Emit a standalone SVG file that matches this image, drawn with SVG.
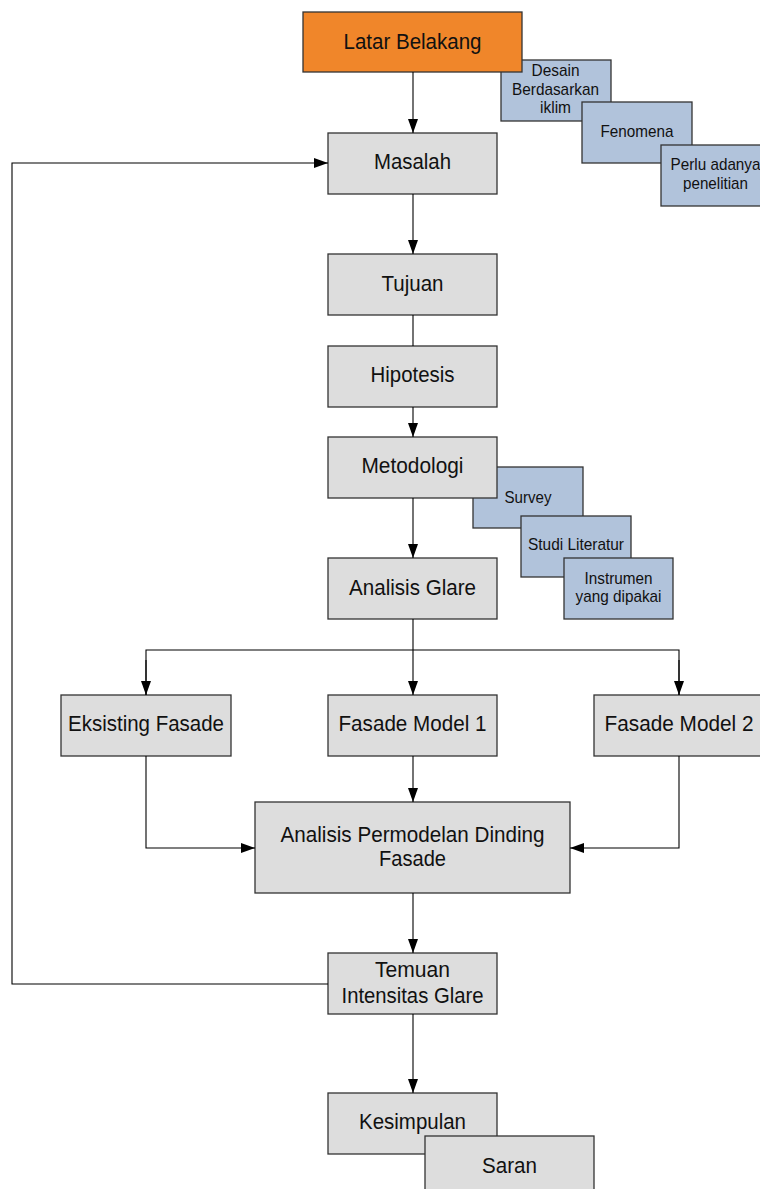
<svg xmlns="http://www.w3.org/2000/svg" width="760" height="1189" viewBox="0 0 760 1189">
<defs>
<style>
text{font-family:"Liberation Sans",Arial,sans-serif;fill:#111;text-anchor:middle}
.m{font-size:22.5px}
.b{font-size:17px}
.g{fill:#dddddd;stroke:#333;stroke-width:1.3}
.o{fill:#f0862a;stroke:#333;stroke-width:1.3}
.u{fill:#b1c3db;stroke:#333;stroke-width:1.3}
.c{fill:none;stroke:#000;stroke-width:1.1}
</style>
<marker id="ah" markerUnits="userSpaceOnUse" markerWidth="16" markerHeight="12" refX="14" refY="5" orient="auto">
<path d="M0,0 L14,5 L0,10 Z" fill="#000"/>
</marker>
</defs>
<rect width="760" height="1189" fill="#fff"/>

<g id="desain"><rect class="u" x="501" y="60" width="110" height="61"/><text class="b" x="555.5" y="76" textLength="48" lengthAdjust="spacingAndGlyphs">Desain</text><text class="b" x="555.5" y="94.5" textLength="87" lengthAdjust="spacingAndGlyphs">Berdasarkan</text><text class="b" x="555.5" y="113" textLength="31" lengthAdjust="spacingAndGlyphs">iklim</text></g>
<g id="fenomena"><rect class="u" x="582" y="102" width="110" height="61"/><text class="b" x="637" y="137" textLength="73" lengthAdjust="spacingAndGlyphs">Fenomena</text></g>
<g id="perlu"><rect class="u" x="661" y="145" width="110" height="61"/><text class="b" x="715.5" y="170" textLength="90" lengthAdjust="spacingAndGlyphs">Perlu adanya</text><text class="b" x="715.5" y="189" textLength="65" lengthAdjust="spacingAndGlyphs">penelitian</text></g>
<g id="latar"><rect class="o" x="303" y="12" width="219" height="60"/><text class="m" x="412.5" y="49" textLength="138" lengthAdjust="spacingAndGlyphs">Latar Belakang</text></g>
<g id="masalah"><rect class="g" x="328" y="133" width="169" height="61"/><text class="m" x="412.5" y="169" textLength="77" lengthAdjust="spacingAndGlyphs">Masalah</text></g>
<g id="tujuan"><rect class="g" x="328" y="254" width="169" height="61"/><text class="m" x="412.5" y="290.5" textLength="62" lengthAdjust="spacingAndGlyphs">Tujuan</text></g>
<g id="hipotesis"><rect class="g" x="328" y="346" width="169" height="61"/><text class="m" x="412.5" y="382" textLength="84" lengthAdjust="spacingAndGlyphs">Hipotesis</text></g>

<g id="survey"><rect class="u" x="473" y="467" width="110" height="61"/><text class="b" x="528" y="503" textLength="47" lengthAdjust="spacingAndGlyphs">Survey</text></g>
<g id="studi"><rect class="u" x="521" y="516" width="110" height="61"/><text class="b" x="576" y="550" textLength="96" lengthAdjust="spacingAndGlyphs">Studi Literatur</text></g>
<g id="instrumen"><rect class="u" x="564" y="558" width="109" height="61"/><text class="b" x="618.5" y="584" textLength="68" lengthAdjust="spacingAndGlyphs">Instrumen</text><text class="b" x="618.5" y="602" textLength="86" lengthAdjust="spacingAndGlyphs">yang dipakai</text></g>
<g id="metodologi"><rect class="g" x="328" y="437" width="169" height="61"/><text class="m" x="412.5" y="473" textLength="102" lengthAdjust="spacingAndGlyphs">Metodologi</text></g>
<g id="analisis-glare"><rect class="g" x="328" y="558" width="169" height="61"/><text class="m" x="412.5" y="595" textLength="127" lengthAdjust="spacingAndGlyphs">Analisis Glare</text></g>

<g id="eksisting"><rect class="g" x="61" y="695" width="170" height="61"/><text class="m" x="146" y="730.5" textLength="156" lengthAdjust="spacingAndGlyphs">Eksisting Fasade</text></g>
<g id="model1"><rect class="g" x="328" y="695" width="169" height="61"/><text class="m" x="412.5" y="730.5" textLength="148" lengthAdjust="spacingAndGlyphs">Fasade Model 1</text></g>
<g id="model2"><rect class="g" x="594" y="695" width="169" height="61"/><text class="m" x="679" y="730.5" textLength="149" lengthAdjust="spacingAndGlyphs">Fasade Model 2</text></g>
<g id="permodelan"><rect class="g" x="255" y="802" width="315" height="91"/><text class="m" x="412.5" y="842" textLength="264" lengthAdjust="spacingAndGlyphs">Analisis Permodelan Dinding</text><text class="m" x="412.5" y="865.5" textLength="67" lengthAdjust="spacingAndGlyphs">Fasade</text></g>
<g id="temuan"><rect class="g" x="328" y="953" width="169" height="61"/><text class="m" x="412.5" y="977" textLength="75" lengthAdjust="spacingAndGlyphs">Temuan</text><text class="m" x="412.5" y="1002.5" textLength="142" lengthAdjust="spacingAndGlyphs">Intensitas Glare</text></g>
<g id="kesimpulan"><rect class="g" x="328" y="1093" width="169" height="61"/><text class="m" x="412.5" y="1128.5" textLength="107" lengthAdjust="spacingAndGlyphs">Kesimpulan</text></g>
<g id="saran"><rect class="g" x="425" y="1136" width="169" height="61"/><text class="m" x="509.5" y="1173" textLength="55" lengthAdjust="spacingAndGlyphs">Saran</text></g>

<g id="connectors">
<path class="c" d="M413,72 V133" marker-end="url(#ah)"/>
<path class="c" d="M413,194 V254" marker-end="url(#ah)"/>
<path class="c" d="M413,315 V346"/>
<path class="c" d="M413,407 V437" marker-end="url(#ah)"/>
<path class="c" d="M413,498 V558" marker-end="url(#ah)"/>
<path class="c" d="M413,619 V695" marker-end="url(#ah)"/>
<path class="c" d="M146,695 V650 H679 V695"/>
<path class="c" d="M146,660 V695" marker-end="url(#ah)"/>
<path class="c" d="M679,660 V695" marker-end="url(#ah)"/>
<path class="c" d="M146,756 V848 H255" marker-end="url(#ah)"/>
<path class="c" d="M679,756 V848 H570" marker-end="url(#ah)"/>
<path class="c" d="M413,756 V802" marker-end="url(#ah)"/>
<path class="c" d="M413,893 V953" marker-end="url(#ah)"/>
<path class="c" d="M413,1014 V1093" marker-end="url(#ah)"/>
<path class="c" d="M328,984 H12 V163 H328" marker-end="url(#ah)"/>
</g>
</svg>
